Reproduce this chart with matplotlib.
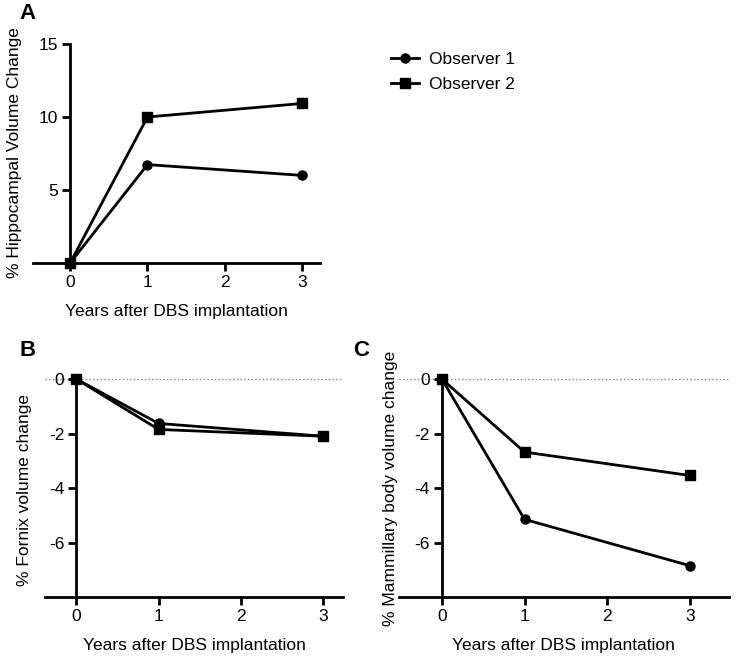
import matplotlib

matplotlib.use("Agg")
import matplotlib.pyplot as plt

plt.rcParams["font.family"] = ["Liberation Sans", "DejaVu Sans"]
plt.rcParams["axes.unicode_minus"] = False

years = [0, 1, 3]
xticks = [0, 1, 2, 3]

hippo_obs1 = [0, 6.74, 6.0]
hippo_obs2 = [0, 10.0, 10.93]
fornix_obs1 = [0, -1.63, -2.1]
fornix_obs2 = [0, -1.85, -2.1]
mammillary_obs1 = [0, -5.15, -6.85]
mammillary_obs2 = [0, -2.68, -3.54]

series_labels = ["Observer 1", "Observer 2"]
xlabel = "Years after DBS implantation"


def style_axes(ax, ylim, yticks, xlim):
    ax.set_xlim(*xlim)
    ax.set_ylim(*ylim)
    for side in ("top", "right"):
        ax.spines[side].set_visible(False)
    ax.spines["left"].set_position(("data", 0))
    ax.spines["left"].set_linewidth(2)
    ax.spines["bottom"].set_linewidth(2)
    ax.set_xticks(xticks)
    ax.set_yticks(yticks)
    ax.tick_params(width=2, length=5.5, labelsize=12.5, direction="out", colors="black", pad=3)
    ax.set_xlabel(xlabel, fontsize=12.5, labelpad=10)


def draw(ax, obs1, obs2):
    l1, = ax.plot(years, obs1, "-o", color="black", lw=2, ms=6.5, clip_on=False, zorder=5)
    l2, = ax.plot(years, obs2, "-s", color="black", lw=2, ms=6.5, clip_on=False, zorder=5)
    return l1, l2


fig = plt.figure(figsize=(7.36, 6.57), dpi=100)

# panel A
ax_a = fig.add_axes([0.0448, 0.5997, 0.390, 0.3333])
l1, l2 = draw(ax_a, hippo_obs1, hippo_obs2)
style_axes(ax_a, (0, 15), [5, 10, 15], (-0.48, 3.23))
ax_a.set_ylabel("% Hippocampal Volume Change", fontsize=12.5)
ax_a.yaxis.set_label_coords(0.030, 0.768, transform=fig.transFigure)
fig.legend([l1, l2], series_labels, loc="upper left", bbox_to_anchor=(0.51, 0.945),
           frameon=False, fontsize=12.5, handlelength=1.6, handletextpad=0.6,
           labelspacing=0.55)

# panel B
ax_b = fig.add_axes([0.0611, 0.0913, 0.405, 0.3318])
ax_b.axhline(0, color="gray", ls=":", lw=1, zorder=1, clip_on=False)
draw(ax_b, fornix_obs1, fornix_obs2)
style_axes(ax_b, (-8, 0), [0, -2, -4, -6], (-0.38, 3.24))
ax_b.set_ylabel("% Fornix volume change", fontsize=12.5)
ax_b.yaxis.set_label_coords(0.043, 0.254, transform=fig.transFigure)

# panel C
ax_c = fig.add_axes([0.542, 0.0913, 0.448, 0.3318])
ax_c.axhline(0, color="gray", ls=":", lw=1, zorder=1, clip_on=False)
draw(ax_c, mammillary_obs1, mammillary_obs2)
style_axes(ax_c, (-8, 0), [0, -2, -4, -6], (-0.52, 3.47))
ax_c.set_ylabel("% Mammillary body volume change", fontsize=12.5)
ax_c.yaxis.set_label_coords(0.541, 0.257, transform=fig.transFigure)

fig.text(0.027, 0.979, "A", fontsize=16, fontweight="bold", va="center")
fig.text(0.027, 0.466, "B", fontsize=16, fontweight="bold", va="center")
fig.text(0.480, 0.466, "C", fontsize=16, fontweight="bold", va="center")

fig.savefig("out.png", dpi=100)
